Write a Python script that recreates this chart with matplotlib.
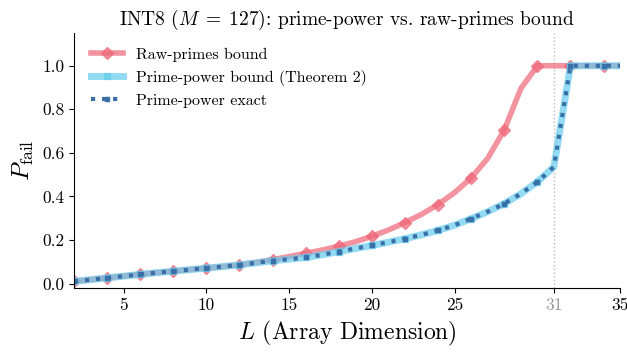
import matplotlib
matplotlib.use("Agg")
import matplotlib.pyplot as plt

plt.rcParams['font.family'] = ['cmr10', 'DejaVu Serif']
plt.rcParams['mathtext.fontset'] = 'cm'
plt.rcParams['axes.formatter.use_mathtext'] = True

L = list(range(2, 36))
raw_primes = [0.010, 0.018, 0.026, 0.034, 0.042, 0.050, 0.057, 0.064, 0.071, 0.078,
              0.086, 0.097, 0.110, 0.124, 0.139, 0.154, 0.172, 0.192, 0.217, 0.246,
              0.280, 0.318, 0.363, 0.418, 0.485, 0.575, 0.705, 0.895, 1.0, 1.0,
              1.0, 1.0, 1.0, 1.0]
pp_bound = [0.010, 0.018, 0.026, 0.034, 0.042, 0.050, 0.057, 0.064, 0.071, 0.078,
            0.086, 0.095, 0.105, 0.112, 0.120, 0.132, 0.147, 0.161, 0.175, 0.190,
            0.206, 0.224, 0.244, 0.268, 0.298, 0.330, 0.367, 0.412, 0.467, 0.536,
            1.0, 1.0, 1.0, 1.0]
pp_exact = list(pp_bound)

x_ticks = [5, 10, 15, 20, 25, 31, 35]
y_ticks = [0.0, 0.2, 0.4, 0.6, 0.8, 1.0]
critical_L = 31

fig = plt.figure(figsize=(6.27, 3.52), dpi=100)
ax = fig.add_axes([0.118, 0.182, 0.871, 0.724])

ax.axvline(critical_L, color='#bbbbbb', linestyle=':', linewidth=1)

ax.plot(L, raw_primes, color='#EE6677', alpha=0.7, linewidth=4, marker='D',
        markersize=6, markevery=2, label='Raw-primes bound')
ax.plot(L, pp_bound, color='#66CCEE', alpha=0.7, linewidth=5, marker='s',
        markersize=4, markevery=2, label='Prime-power bound (Theorem 2)')
ax.plot(L, pp_exact, color='#3a6fa8', linestyle=':', linewidth=3, marker='s',
        markersize=3, markevery=2, label='Prime-power exact')

ax.set_xlim(2, 35)
ax.set_ylim(-0.02, 1.15)
ax.set_xticks(x_ticks)
ax.set_xticklabels([str(t) for t in x_ticks], fontsize=12.5)
ax.get_xticklabels()[x_ticks.index(critical_L)].set_color('#999999')
ax.set_yticks(y_ticks)
ax.set_yticklabels([f"{t:.1f}" for t in y_ticks], fontsize=12.5)

ax.spines['top'].set_visible(False)
ax.spines['right'].set_visible(False)

ax.set_xlabel(r'$L$ (Array Dimension)', fontsize=17)
ax.set_ylabel(r'$P_{\rm fail}$', fontsize=18)
ax.set_title(r'INT8 ($M\;=\;127$): prime-power vs. raw-primes bound', fontsize=14)

ax.legend(loc='upper left', frameon=False, fontsize=11.5,
          bbox_to_anchor=(0.005, 1.0))

fig.savefig('out.png', dpi=100)
